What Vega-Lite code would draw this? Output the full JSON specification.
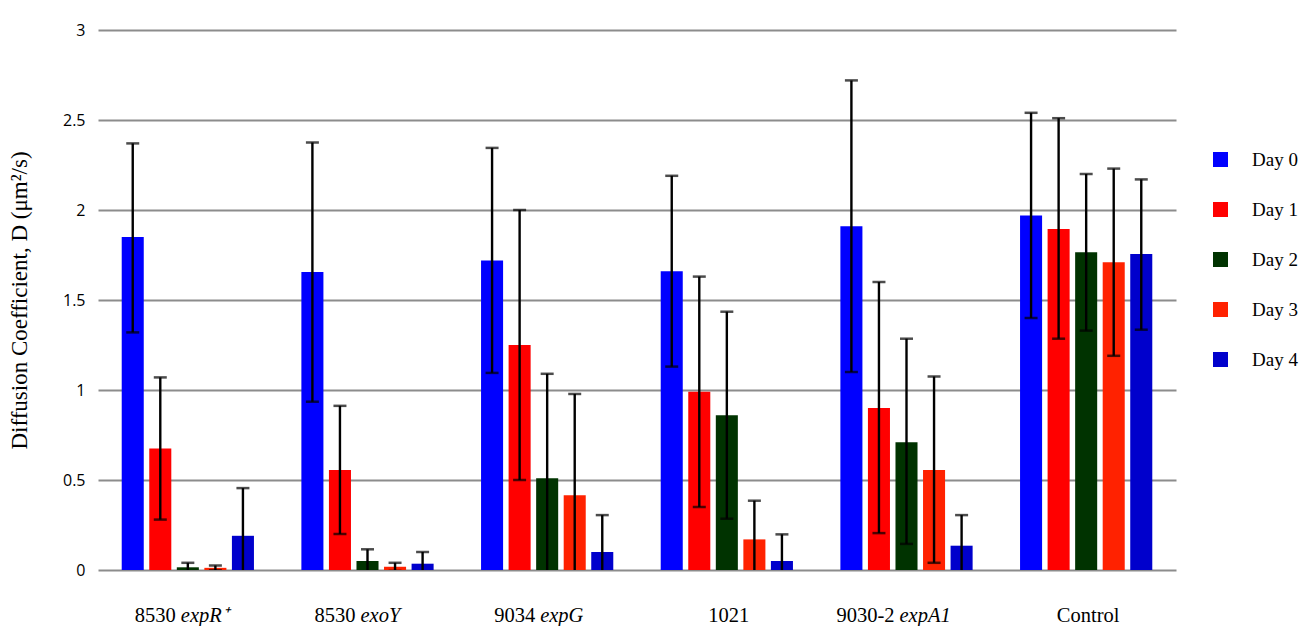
{
  "$schema": "https://vega.github.io/schema/vega-lite/v6.json",
  "width": 1078,
  "height": 540,
  "autosize": {"type": "none"},
  "padding": {"left": 98, "top": 30, "right": 123, "bottom": 56},
  "background": "white",
  "config": {
    "view": {"stroke": null},
    "axis": {"labelColor": "black", "titleColor": "black"}
  },
  "data": {
    "values": [
      {"group": "8530 expR⁺", "day": "Day 0", "value": 1.85, "lo": 1.32, "hi": 2.37},
      {"group": "8530 expR⁺", "day": "Day 1", "value": 0.675, "lo": 0.28, "hi": 1.07},
      {"group": "8530 expR⁺", "day": "Day 2", "value": 0.015, "lo": -0.01, "hi": 0.04},
      {"group": "8530 expR⁺", "day": "Day 3", "value": 0.012, "lo": -0.002, "hi": 0.025},
      {"group": "8530 expR⁺", "day": "Day 4", "value": 0.19, "lo": -0.075, "hi": 0.455},
      {"group": "8530 exoY", "day": "Day 0", "value": 1.655, "lo": 0.935, "hi": 2.375},
      {"group": "8530 exoY", "day": "Day 1", "value": 0.555, "lo": 0.2, "hi": 0.912},
      {"group": "8530 exoY", "day": "Day 2", "value": 0.05, "lo": -0.015, "hi": 0.115},
      {"group": "8530 exoY", "day": "Day 3", "value": 0.018, "lo": -0.005, "hi": 0.04},
      {"group": "8530 exoY", "day": "Day 4", "value": 0.035, "lo": -0.03, "hi": 0.1},
      {"group": "9034 expG", "day": "Day 0", "value": 1.72, "lo": 1.095, "hi": 2.345},
      {"group": "9034 expG", "day": "Day 1", "value": 1.25, "lo": 0.5, "hi": 2.0},
      {"group": "9034 expG", "day": "Day 2", "value": 0.51, "lo": -0.07, "hi": 1.09},
      {"group": "9034 expG", "day": "Day 3", "value": 0.415, "lo": -0.15, "hi": 0.978},
      {"group": "9034 expG", "day": "Day 4", "value": 0.1, "lo": -0.105, "hi": 0.305},
      {"group": "1021", "day": "Day 0", "value": 1.66, "lo": 1.13, "hi": 2.19},
      {"group": "1021", "day": "Day 1", "value": 0.99, "lo": 0.35, "hi": 1.63},
      {"group": "1021", "day": "Day 2", "value": 0.86, "lo": 0.285, "hi": 1.435},
      {"group": "1021", "day": "Day 3", "value": 0.17, "lo": -0.045, "hi": 0.385},
      {"group": "1021", "day": "Day 4", "value": 0.05, "lo": -0.1, "hi": 0.198},
      {"group": "9030-2 expA1", "day": "Day 0", "value": 1.91, "lo": 1.1, "hi": 2.72},
      {"group": "9030-2 expA1", "day": "Day 1", "value": 0.9, "lo": 0.205, "hi": 1.6},
      {"group": "9030-2 expA1", "day": "Day 2", "value": 0.71, "lo": 0.145, "hi": 1.285},
      {"group": "9030-2 expA1", "day": "Day 3", "value": 0.555, "lo": 0.04, "hi": 1.075},
      {"group": "9030-2 expA1", "day": "Day 4", "value": 0.135, "lo": -0.035, "hi": 0.305},
      {"group": "Control", "day": "Day 0", "value": 1.97, "lo": 1.4, "hi": 2.54},
      {"group": "Control", "day": "Day 1", "value": 1.895, "lo": 1.285, "hi": 2.51},
      {"group": "Control", "day": "Day 2", "value": 1.765, "lo": 1.33, "hi": 2.2},
      {"group": "Control", "day": "Day 3", "value": 1.71, "lo": 1.19, "hi": 2.23},
      {"group": "Control", "day": "Day 4", "value": 1.755, "lo": 1.335, "hi": 2.17}
    ]
  },
  "layer": [
    {
      "mark": {"type": "bar"},
      "encoding": {
        "x": {
          "field": "group", "type": "nominal",
          "sort": ["8530 expR⁺", "8530 exoY", "9034 expG", "1021", "9030-2 expA1", "Control"],
          "scale": {"paddingInner": 0.264, "paddingOuter": 0.132},
          "axis": {
            "orient": "bottom", "title": null, "domain": false, "ticks": false,
            "labelAngle": 0, "labelFont": "Liberation Serif", "labelFontSize": 20.5,
            "labelPadding": 35, "labelOverlap": false, "labelBound": false,
            "labelExpr": "split(datum.label, ' ')[0]",
            "labelAlign": {"condition": {"test": "indexof(datum.value, ' ') < 0", "value": "center"}, "value": "right"},
            "labelOffset": {"condition": {"test": "indexof(datum.value, ' ') < 0", "value": 2}, "value": -12}
          }
        },
        "xOffset": {"field": "day", "type": "nominal", "scale": {"paddingInner": 0.2, "paddingOuter": 0}},
        "y": {
          "field": "value", "type": "quantitative",
          "scale": {"domain": [0, 3], "nice": false, "zero": true},
          "axis": {
            "title": "Diffusion Coefficient, D (μm²/s)",
            "titleFont": "Liberation Serif", "titleFontSize": 23, "titleFontWeight": "normal",
            "titlePadding": 31,
            "values": [0, 0.5, 1, 1.5, 2, 2.5, 3], "format": "~g",
            "domain": false, "ticks": false, "labelPadding": 13,
            "labelFont": "Open Sans", "labelFontSize": 16,
            "grid": true, "gridColor": "#8c8c8c", "gridWidth": 2
          }
        },
        "color": {
          "field": "day", "type": "nominal",
          "scale": {"domain": ["Day 0", "Day 1", "Day 2", "Day 3", "Day 4"], "range": ["#0000ff", "#ff0000", "#003300", "#ff2200", "#0000cc"]},
          "legend": {
            "title": null, "orient": "none", "legendX": 1113, "legendY": 120,
            "symbolType": "square", "symbolSize": 225, "symbolStrokeWidth": 0,
            "labelFont": "Liberation Serif", "labelFontSize": 19, "labelColor": "black",
            "labelOffset": 22, "rowPadding": 30
          }
        }
      }
    },
    {
      "mark": {"type": "rule", "color": "black", "strokeWidth": 2.4, "clip": true},
      "encoding": {
        "x": {
          "field": "group", "type": "nominal",
          "sort": ["8530 expR⁺", "8530 exoY", "9034 expG", "1021", "9030-2 expA1", "Control"],
          "axis": {
            "orient": "bottom", "title": null, "domain": false, "ticks": false, "grid": false,
            "labelAngle": 0, "labelFont": "Liberation Serif", "labelFontSize": 20.5, "labelFontStyle": "italic",
            "labelPadding": 35, "labelOverlap": false, "labelBound": false,
            "labelExpr": "indexof(datum.label, ' ') > 0 ? split(datum.label, ' ')[1] : ''",
            "labelAlign": "left", "labelOffset": -7
          }
        },
        "xOffset": {"field": "day", "type": "nominal"},
        "y": {"field": "lo", "type": "quantitative"},
        "y2": {"field": "hi"}
      }
    },
    {
      "mark": {"type": "tick", "color": "black", "thickness": 2.5, "size": 13, "clip": true},
      "encoding": {
        "x": {"field": "group", "type": "nominal", "sort": ["8530 expR⁺", "8530 exoY", "9034 expG", "1021", "9030-2 expA1", "Control"], "axis": null},
        "xOffset": {"field": "day", "type": "nominal"},
        "y": {"field": "hi", "type": "quantitative"}
      }
    },
    {
      "mark": {"type": "tick", "color": "black", "thickness": 2.5, "size": 13, "clip": true},
      "encoding": {
        "x": {"field": "group", "type": "nominal", "sort": ["8530 expR⁺", "8530 exoY", "9034 expG", "1021", "9030-2 expA1", "Control"], "axis": null},
        "xOffset": {"field": "day", "type": "nominal"},
        "y": {"field": "lo", "type": "quantitative"}
      }
    }
  ],
  "resolve": {"axis": {"x": "independent"}}
}
